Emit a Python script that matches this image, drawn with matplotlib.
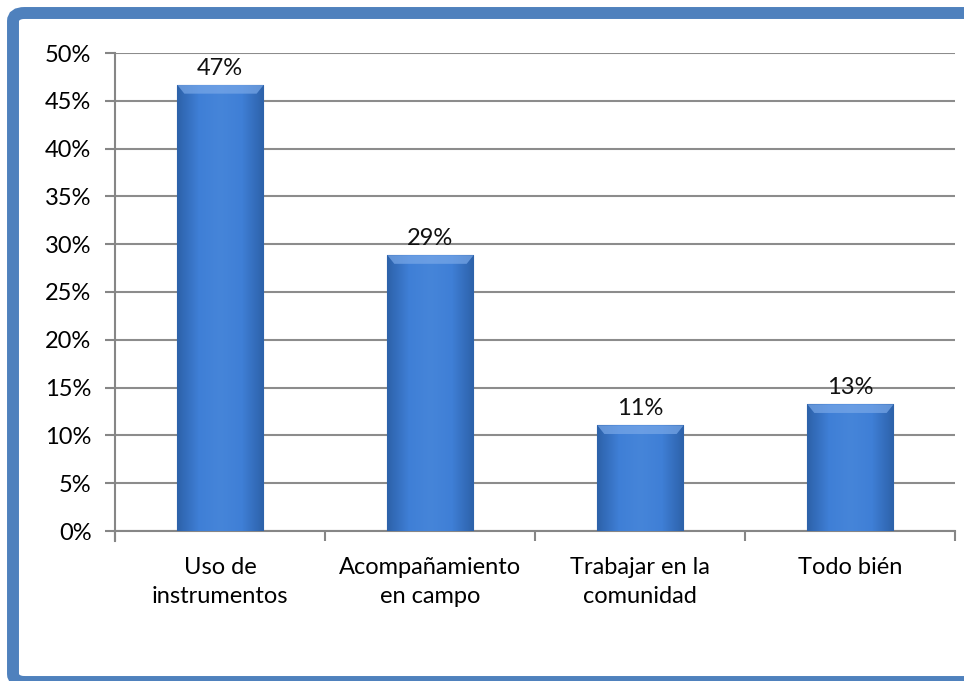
import numpy as np
import matplotlib
matplotlib.use('Agg')
from matplotlib import pyplot as plt
from matplotlib.patches import FancyBboxPatch
from matplotlib.colors import LinearSegmentedColormap

plt.rcParams['font.family'] = ['Lato', 'DejaVu Sans']

categorias = ['Uso de\ninstrumentos', 'Acompañamiento\nen campo', 'Trabajar en la\ncomunidad', 'Todo bién']
valores = [46.7, 28.9, 11.1, 13.3]
etiquetas = ['47%', '29%', '11%', '13%']
yticks = [0, 5, 10, 15, 20, 25, 30, 35, 40, 45, 50]

W, H = 964, 681
fig = plt.figure(figsize=(W / 100, H / 100), dpi=100)

# marco azul redondeado (se sale por la derecha y por abajo)
marco = FancyBboxPatch((13 / W, -1 / H), (W + 20) / W, 669 / H,
                       boxstyle='round,pad=0,rounding_size=0.012',
                       transform=fig.transFigure, fill=False,
                       edgecolor='#4f81bd', linewidth=8.6, zorder=0)
fig.patches.append(marco)

ax = fig.add_axes([115 / W, 1 - 531 / H, 840 / W, 478 / H])
x = np.arange(len(valores))
barras = ax.bar(x, valores, width=0.41, color='#3d7bd0', edgecolor='#2c5a94',
                linewidth=0.8, zorder=3)

# degradado horizontal dentro de cada barra
cmap = LinearSegmentedColormap.from_list('bev', ['#2d62aa', '#3f7fd6', '#4685d9', '#3f7fd6', '#2d62aa'])
grad = np.linspace(0, 1, 100).reshape(1, -1)
for b in barras:
    x0, w, h = b.get_x(), b.get_width(), b.get_height()
    im = ax.imshow(grad, cmap=cmap, aspect='auto', extent=(x0, x0 + w, 0, h), zorder=3.5)
    im.set_clip_path(b)
    ax.fill_between([x0, x0 + w * 0.08, x0 + w * 0.92, x0 + w], [h, h - 0.9, h - 0.9, h], [h, h, h, h],
                    color='#79a8e8', alpha=0.7, zorder=4, linewidth=0)

for xi, v, t in zip(x, valores, etiquetas):
    ax.text(xi, v + 0.6, t, ha='center', va='bottom', fontsize=17, color='#111111', zorder=5)

ax.set_xlim(-0.5, len(valores) - 0.5)
ax.set_ylim(0, 50)
ax.set_yticks(yticks)
ax.set_yticklabels([f'{v}%' for v in yticks], fontsize=17)
ax.set_xticks(x)
ax.set_xticklabels(categorias, fontsize=17, linespacing=1.45)
ax.set_xticks(np.arange(-0.5, len(valores)), minor=True)
ax.tick_params(axis='x', which='major', length=0, pad=19)
ax.tick_params(axis='x', which='minor', length=7, color='#868686', width=1.5)
ax.tick_params(axis='y', length=7, color='#868686', width=1.5, pad=10)

ax.grid(axis='y', color='#8c8c8c', linewidth=1.5, zorder=1)
for s in ['top', 'right']:
    ax.spines[s].set_visible(False)
for s in ['left', 'bottom']:
    ax.spines[s].set_color('#868686')
    ax.spines[s].set_linewidth(1.5)
ax.spines['left'].set_bounds(-1, 50)

plt.savefig('out.png', dpi=100)
